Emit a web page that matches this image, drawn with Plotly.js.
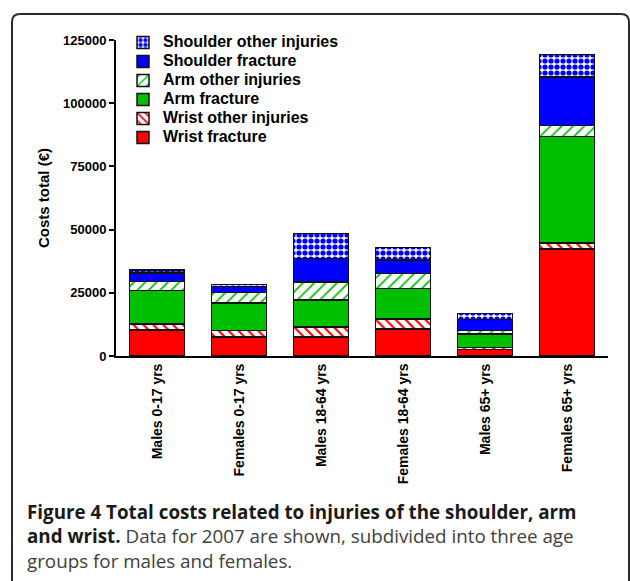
<!DOCTYPE html>
<html>
<head>
<meta charset="utf-8">
<script src="https://cdn.plot.ly/plotly-3.0.1.min.js"></script>
<style>html,body{margin:0;padding:0;background:#fff;}#chart{width:630px;height:581px;}</style>
</head>
<body>
<div id="chart"></div>
<script>
// ---- data ----
var categories = ['Males 0-17 yrs', 'Females 0-17 yrs', 'Males 18-64 yrs', 'Females 18-64 yrs', 'Males 65+ yrs', 'Females 65+ yrs'];
var wristFracture    = [10300, 7600, 7600, 10700, 2650, 42400];
var wristOther       = [2400, 2500, 3950, 3850, 650, 2350];
var armFracture      = [13300, 10900, 10550, 12250, 5500, 42150];
var armOther         = [3400, 4100, 7250, 5900, 1200, 4350];
var shoulderFracture = [3450, 2400, 9250, 5250, 4500, 19100];
var shoulderOther    = [1200, 800, 9850, 5000, 2350, 8950];
var seriesNames = ['Wrist fracture', 'Wrist other injuries', 'Arm fracture', 'Arm other injuries', 'Shoulder fracture', 'Shoulder other injuries'];
var yTicks = [0, 25000, 50000, 75000, 100000, 125000];

// ---- layout geometry ----
var W = 630, H = 581;
var M = {l: 116, r: 22, t: 40, b: 225};
var PW = W - M.l - M.r, PH = H - M.t - M.b;
function px(x) { return (x - M.l) / PW; }
function py(y) { return (H - M.b - y) / PH; }

var RED = '#ff0000', GREEN = '#00bf00', BLUE = '#0000ff';
var FONT = 'Liberation Sans, Arial, Helvetica, sans-serif';

function bar(name, vals, color, pattern) {
  var m = {color: color, line: {color: '#111', width: 1.5}};
  if (pattern) {
    m.pattern = Object.assign({fillmode: 'replace', bgcolor: '#ffffff', fgcolor: color}, pattern);
  }
  return {
    type: 'bar', x: categories, y: vals,
    name: '<span style="font-size:16px">' + name + '</span>',
    marker: m, hoverinfo: 'x+y+name'
  };
}

var data = [
  bar(seriesNames[0], wristFracture, RED),
  bar(seriesNames[1], wristOther, RED, {shape: '\\', size: 7, solidity: 0.3}),
  bar(seriesNames[2], armFracture, GREEN),
  bar(seriesNames[3], armOther, GREEN, {shape: '/', size: 8, solidity: 0.22}),
  bar(seriesNames[4], shoulderFracture, BLUE),
  bar(seriesNames[5], shoulderOther, BLUE, {shape: '.', size: 6, solidity: 0.6})
];

var r = 8, L0 = 12, T0 = 14, R0 = 629, B0 = 620;
var framePath = 'M' + px(L0) + ',' + py(B0) +
  ' L' + px(L0) + ',' + py(T0 + r) +
  ' Q' + px(L0) + ',' + py(T0) + ' ' + px(L0 + r) + ',' + py(T0) +
  ' L' + px(R0 - r) + ',' + py(T0) +
  ' Q' + px(R0) + ',' + py(T0) + ' ' + px(R0) + ',' + py(T0 + r) +
  ' L' + px(R0) + ',' + py(B0);

var layout = {
  width: W, height: H,
  margin: M,
  paper_bgcolor: '#ffffff', plot_bgcolor: '#ffffff',
  barmode: 'stack',
  bargap: 0.33,
  font: {family: FONT, color: '#000'},
  showlegend: true,
  legend: {
    x: px(123), y: py(28), xanchor: 'left', yanchor: 'top',
    traceorder: 'reversed',
    bgcolor: 'rgba(0,0,0,0)',
    font: {family: FONT, size: 12, weight: 'bold', color: '#000'}
  },
  xaxis: {
    type: 'category',
    range: [-0.5, 5.5],
    showline: true, linecolor: '#000', linewidth: 2,
    ticks: '', showgrid: false, zeroline: false,
    tickangle: -90,
    tickfont: {family: FONT, size: 14, weight: 'bold', color: '#000'}
  },
  yaxis: {
    range: [0, 125000],
    tickvals: yTicks, tickformat: 'd',
    showline: true, linecolor: '#000', linewidth: 2,
    ticks: 'outside', ticklen: 5, tickwidth: 2, tickcolor: '#000',
    showgrid: false, zeroline: false,
    tickfont: {family: FONT, size: 13, weight: 'bold', color: '#000'},
    title: {text: 'Costs total (€)', standoff: 10, font: {family: FONT, size: 15, weight: 'bold', color: '#000'}}
  },
  shapes: [{
    type: 'path', xref: 'paper', yref: 'paper', path: framePath,
    line: {color: '#2b2b2b', width: 2}
  }],
  annotations: [{
    xref: 'paper', yref: 'paper', x: px(25), y: py(497),
    xanchor: 'left', yanchor: 'top', align: 'left', showarrow: false,
    font: {family: 'Open Sans, Noto Sans, sans-serif', size: 18.8, color: '#1a1a1a'},
    text: '<b>Figure 4 Total costs related to injuries of the shoulder, arm</b><br>' +
          '<b>and wrist.</b><span style="color:#404040"> Data for 2007 are shown, subdivided into three age</span><br>' +
          '<span style="color:#404040">groups for males and females.</span>'
  }]
};

Plotly.newPlot('chart', data, layout, {displayModeBar: false, staticPlot: true});
</script>
</body>
</html>
